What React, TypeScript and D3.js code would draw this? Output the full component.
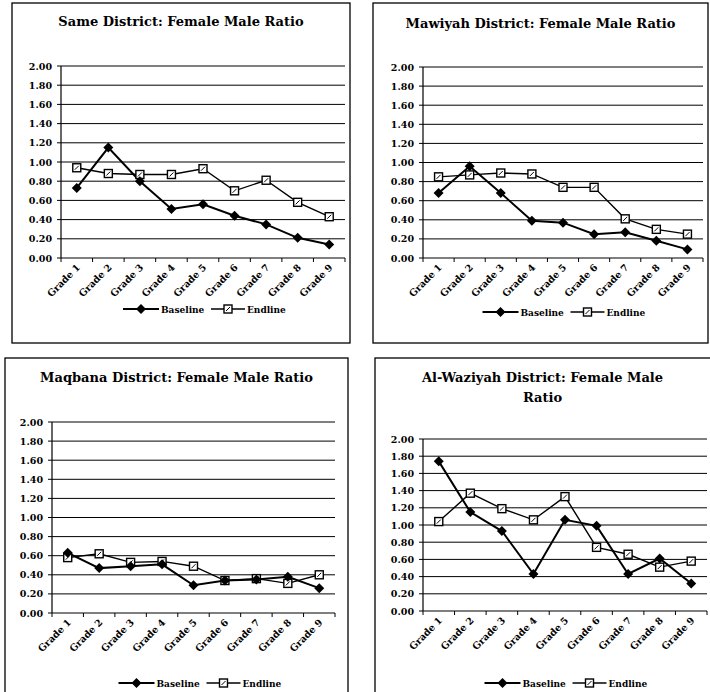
import React from 'react';
import * as d3 from 'd3';

const grades = ['Grade 1', 'Grade 2', 'Grade 3', 'Grade 4', 'Grade 5', 'Grade 6', 'Grade 7', 'Grade 8', 'Grade 9'];
const yTicks = [0, 0.2, 0.4, 0.6, 0.8, 1.0, 1.2, 1.4, 1.6, 1.8, 2.0];

const sameBaseline = [0.73, 1.15, 0.8, 0.51, 0.56, 0.44, 0.35, 0.21, 0.14];
const sameEndline = [0.94, 0.88, 0.87, 0.87, 0.93, 0.7, 0.81, 0.58, 0.43];

const mawiyahBaseline = [0.68, 0.96, 0.68, 0.39, 0.37, 0.25, 0.27, 0.18, 0.09];
const mawiyahEndline = [0.85, 0.87, 0.89, 0.88, 0.74, 0.74, 0.41, 0.3, 0.25];

const maqbanaBaseline = [0.63, 0.47, 0.49, 0.51, 0.29, 0.34, 0.35, 0.38, 0.26];
const maqbanaEndline = [0.58, 0.62, 0.53, 0.54, 0.49, 0.34, 0.36, 0.31, 0.4];

const waziyahBaseline = [1.74, 1.15, 0.93, 0.43, 1.06, 0.99, 0.43, 0.61, 0.32];
const waziyahEndline = [1.04, 1.37, 1.19, 1.06, 1.33, 0.74, 0.66, 0.51, 0.58];

const FONT = "'DejaVu Serif', 'Liberation Serif', serif";

interface Box { x0: number; y0: number; x1: number; y1: number }

interface PanelProps {
  titleLines: string[];
  titleY: number;
  frame: Box;
  plot: Box;
  legendY: number;
  baseline: number[];
  endline: number[];
}

const Diamond = ({ x, y }: { x: number; y: number }) => (
  <path d={`M${x},${y - 5}L${x + 5},${y}L${x},${y + 5}L${x - 5},${y}Z`} fill="#000" />
);

const Square = ({ x, y }: { x: number; y: number }) => (
  <g>
    <rect x={x - 4} y={y - 4} width={8} height={8} fill="#fff" stroke="#000" strokeWidth={1.4} />
    <path d={`M${x - 2},${y + 2}L${x + 2},${y - 2}`} stroke="#000" strokeWidth={1} />
  </g>
);

const txt = (size: number) => ({ fontFamily: FONT, fontWeight: 'bold' as const, fontSize: size });

const Panel = ({ titleLines, titleY, frame, plot, legendY, baseline, endline }: PanelProps) => {
  const x = d3.scaleBand<string>().domain(grades).range([plot.x0, plot.x1]);
  const y = d3.scaleLinear().domain([0, 2]).range([plot.y1, plot.y0]);
  const cx = (g: string) => (x(g) || 0) + x.bandwidth() / 2;
  const line = d3.line<number>().x((_, i) => cx(grades[i])).y(d => y(d));
  const midX = (frame.x0 + Math.min(frame.x1, 710)) / 2;
  const lx = midX - 58;

  return (
    <g>
      <rect x={frame.x0} y={frame.y0} width={frame.x1 - frame.x0} height={frame.y1 - frame.y0}
        fill="#fff" stroke="#000" strokeWidth={1.3} />
      {titleLines.map((t, i) => (
        <text key={t} x={midX} y={titleY + i * 20} textAnchor="middle" style={txt(13)}>{t}</text>
      ))}
      {yTicks.filter(t => t > 0).map(t => (
        <line key={t} x1={plot.x0} x2={plot.x1} y1={y(t)} y2={y(t)} stroke="#000" strokeWidth={1} />
      ))}
      <line x1={plot.x0} x2={plot.x0} y1={plot.y0} y2={plot.y1} stroke="#000" strokeWidth={1.2} />
      <line x1={plot.x0} x2={plot.x1} y1={plot.y1} y2={plot.y1} stroke="#000" strokeWidth={1.2} />
      {yTicks.map(t => (
        <g key={t}>
          <line x1={plot.x0 - 4} x2={plot.x0} y1={y(t)} y2={y(t)} stroke="#000" />
          <text x={plot.x0 - 9} y={y(t) + 3.5} textAnchor="end" style={txt(9.5)}>{t.toFixed(2)}</text>
        </g>
      ))}
      {grades.map(g => (
        <line key={g} x1={x(g) || 0} x2={x(g) || 0} y1={plot.y1} y2={plot.y1 + 4} stroke="#000" />
      ))}
      <line x1={plot.x1} x2={plot.x1} y1={plot.y1} y2={plot.y1 + 4} stroke="#000" />
      {grades.map(g => (
        <text key={g} transform={`translate(${cx(g) + 4},${plot.y1 + 10}) rotate(-45)`} textAnchor="end"
          style={txt(9.5)}>{g}</text>
      ))}
      <path d={line(baseline) || ''} fill="none" stroke="#000" strokeWidth={2} />
      <path d={line(endline) || ''} fill="none" stroke="#000" strokeWidth={1.4} />
      {endline.map((v, i) => <Square key={i} x={cx(grades[i])} y={y(v)} />)}
      {baseline.map((v, i) => <Diamond key={i} x={cx(grades[i])} y={y(v)} />)}
      <line x1={lx} x2={lx + 36} y1={legendY} y2={legendY} stroke="#000" strokeWidth={2} />
      <Diamond x={lx + 18} y={legendY} />
      <text x={lx + 38} y={legendY + 3.5} style={txt(9)}>Baseline</text>
      <line x1={lx + 88} x2={lx + 122} y1={legendY} y2={legendY} stroke="#000" strokeWidth={1.4} />
      <Square x={lx + 105} y={legendY} />
      <text x={lx + 124} y={legendY + 3.5} style={txt(9)}>Endline</text>
    </g>
  );
};

export default function App() {
  return (
    <svg width={710} height={692} style={{ position: 'absolute', left: 0, top: 0, background: '#fff' }}>
      <rect x={0} y={0} width={710} height={692} fill="#fff" />
      <Panel titleLines={['Same District: Female Male Ratio']} titleY={26}
        frame={{ x0: 12, y0: 3, x1: 350, y1: 343 }} plot={{ x0: 61, y0: 66, x1: 345, y1: 258 }}
        legendY={309} baseline={sameBaseline} endline={sameEndline} />
      <Panel titleLines={['Mawiyah District: Female Male Ratio']} titleY={28}
        frame={{ x0: 373, y0: 3, x1: 708, y1: 343 }} plot={{ x0: 423, y0: 67, x1: 703, y1: 258 }}
        legendY={312} baseline={mawiyahBaseline} endline={mawiyahEndline} />
      <Panel titleLines={['Maqbana District: Female Male Ratio']} titleY={382}
        frame={{ x0: 5, y0: 358, x1: 348, y1: 700 }} plot={{ x0: 52, y0: 422, x1: 335, y1: 613 }}
        legendY={683} baseline={maqbanaBaseline} endline={maqbanaEndline} />
      <Panel titleLines={['Al-Waziyah District: Female Male', 'Ratio']} titleY={382}
        frame={{ x0: 375, y0: 358, x1: 720, y1: 700 }} plot={{ x0: 423, y0: 439, x1: 707, y1: 611 }}
        legendY={683} baseline={waziyahBaseline} endline={waziyahEndline} />
    </svg>
  );
}
